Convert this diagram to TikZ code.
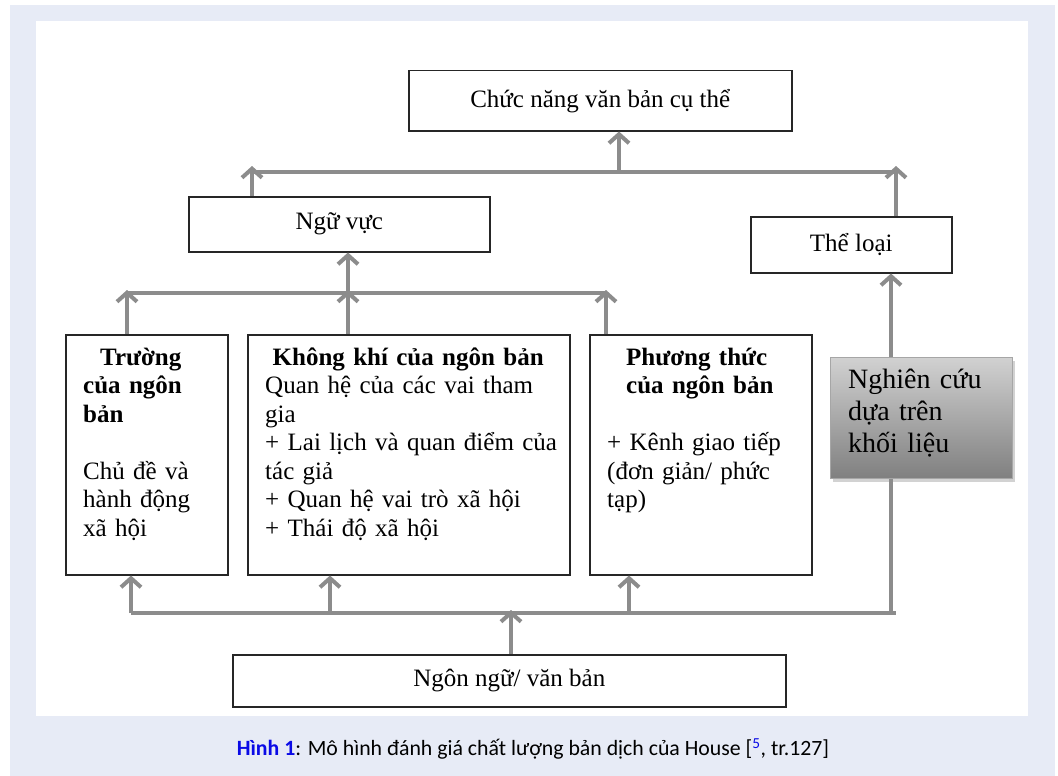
\documentclass[tikz,border=0pt]{standalone}
\usepackage{fontspec}
\setmainfont{Liberation Serif}
\newfontfamily\capfont{Carlito}
\usetikzlibrary{arrows.meta, shadows}
\definecolor{lavbg}{HTML}{E7EBF6}
\definecolor{linegray}{HTML}{8C8C8C}
\definecolor{capblue}{HTML}{0A0AE6}
\tikzset{
  Khung/.style={draw=black!85, line width=1.5pt, inner sep=0pt, anchor=north west,
    font=\fontsize{25}{30}\selectfont}, % hop chu
  KhungXam/.style={Khung, draw=black!35, line width=1pt, top color=black!18, bottom color=black!50,
    drop shadow={shadow xshift=2pt, shadow yshift=-3pt, opacity=0.35}}, % hop xam
  ChuKhung/.style={inner sep=0pt, anchor=north west, align=left,
    font=\fontsize{25}{28.5}\selectfont}, % chu trong hop
  Duong/.style={draw=linegray, line width=4pt}, % duong noi
  MuiTen/.style={Duong, -{Straight Barb[length=9pt,width=20pt]}} % mui ten
}

\begin{document}
\begin{tikzpicture}[x=1pt, y=-1pt]
\useasboundingbox (0,0) rectangle (1058,776);
\fill[white] (0,0) rectangle (1058,776);
\fill[lavbg] (10,5) rectangle (1055,776);
\fill[white] (36,21) rectangle (1028,716);

% % cac hop
\node[Khung, minimum width=383pt, minimum height=60pt] (chucnang) at (408,70) {Chức năng văn bản cụ thể};
\node[Khung, minimum width=301pt, minimum height=55pt] (nguvuc) at (188,196) {Ngữ vực};
\node[Khung, minimum width=201pt, minimum height=56pt] (theloai) at (750,216) {Thể loại};
\node[Khung, minimum width=162pt, minimum height=240pt] (truong) at (65,334) {};
\node[Khung, minimum width=322pt, minimum height=240pt] (khongkhi) at (247,334) {};
\node[Khung, minimum width=222pt, minimum height=240pt] (phuongthuc) at (589,334) {};
\node[KhungXam, minimum width=182pt, minimum height=121pt] (nghiencuu) at (830,357) {};
\node[Khung, minimum width=553pt, minimum height=52pt] (ngonngu) at (232,654) {Ngôn ngữ/ văn bản};

% chu trong hop
\node[ChuKhung, text width=140pt] (truongchu) at ([shift={(18pt,-11pt)}]truong.north west)
  {\strut\hspace*{17pt}\textbf{Trường}\\ \textbf{của ngôn}\\ \textbf{bản}\\[28.5pt]
   Chủ đề và\\ hành động\\ xã hội};
\node[ChuKhung, text width=300pt] (khongkhichu) at ([shift={(18pt,-11pt)}]khongkhi.north west)
  {\makebox[286pt]{\strut\textbf{Không khí của ngôn bản}}\\
   Quan hệ của các vai tham\\ gia\\ + Lai lịch và quan điểm của\\ tác giả\\
   + Quan hệ vai trò xã hội\\ + Thái độ xã hội};
\node[ChuKhung, text width=200pt] (phuongthucchu) at ([shift={(18pt,-11pt)}]phuongthuc.north west)
  {\strut\hspace*{19pt}\textbf{Phương thức}\\ \hspace*{19pt}\textbf{của ngôn bản}\\[28.5pt]
   + Kênh giao tiếp\\ (đơn giản/ phức\\ tạp)};
\node[ChuKhung, text width=160pt, font=\fontsize{28}{32}\selectfont] (nghiencuuchu)
  at ([shift={(18pt,-9pt)}]nghiencuu.north west) {\strut Nghiên cứu\\ dựa trên\\ khối liệu};

% % duong noi tren
\coordinate (tren1) at (252,172);
\coordinate (tren2) at (619,172);
\coordinate (tren3) at (896,172);
\draw[Duong] (tren1) -- (tren3);
\draw[MuiTen] (tren2) -- (tren2 |- chucnang.south);
\draw[MuiTen, shorten >=-6pt] (tren1 |- nguvuc.north) -- (tren1);
\draw[MuiTen, shorten >=-6pt] (tren3 |- theloai.north) -- (tren3);

% duong noi giua
\coordinate (giua1) at (127,293);
\coordinate (giua2) at (348,293);
\coordinate (giua3) at (606,293);
\draw[Duong] (giua1) -- (giua3);
\draw[MuiTen, shorten >=-3pt] (giua1 |- truong.north) -- (giua1);
\draw[MuiTen, shorten >=-3pt] (giua2 |- khongkhi.north) -- (giua2);
\draw[MuiTen, shorten >=-3pt] (giua3 |- phuongthuc.north) -- (giua3);
\draw[MuiTen] (giua2) -- (giua2 |- nguvuc.south);

% duong noi duoi
\coordinate (duoi1) at (131,613);
\coordinate (duoi2) at (330,613);
\coordinate (duoi3) at (511,613);
\coordinate (duoi4) at (629,613);
\coordinate (duoi5) at (891,613);
\coordinate (duoi6) at (896,613);
\draw[Duong] (duoi1) -- (duoi6);
\draw[MuiTen] (duoi1) -- (duoi1 |- truong.south);
\draw[MuiTen] (duoi2) -- (duoi2 |- khongkhi.south);
\draw[MuiTen] (duoi4) -- (duoi4 |- phuongthuc.south);
\draw[MuiTen, shorten >=-3pt] (duoi3 |- ngonngu.north) -- (duoi3);
\draw[Duong] (duoi5 |- nghiencuu.south) -- (duoi5);
\draw[MuiTen] (duoi5 |- nghiencuu.north) -- (duoi5 |- theloai.south);

% chu thich
\node[font=\capfont\fontsize{21.8}{26}\selectfont] (chuthich) at (533,749)
  {\textcolor{capblue}{\bfseries Hình 1}: Mô hình đánh giá chất lượng bản dịch của House
   [\textsuperscript{\textcolor{capblue}{5}}, tr.127]};
\end{tikzpicture}
\end{document}
